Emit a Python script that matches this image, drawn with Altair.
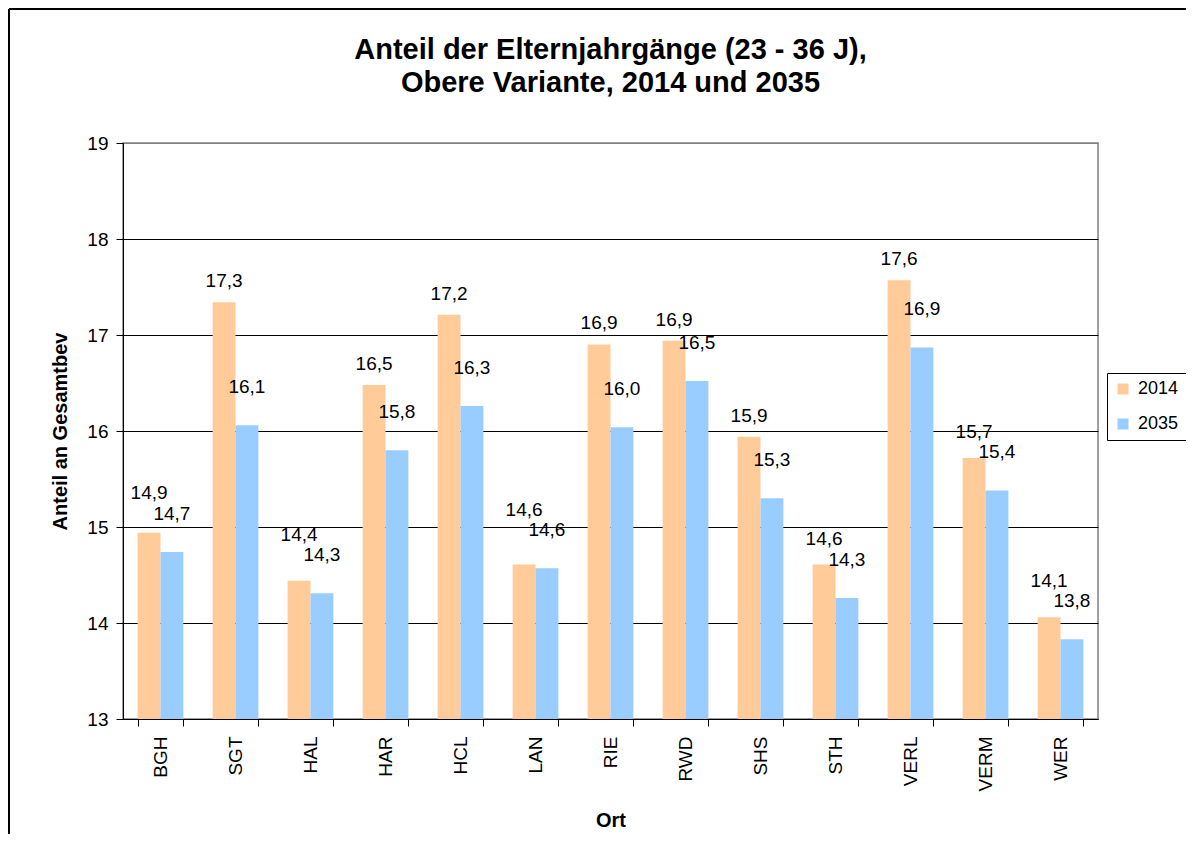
import altair as alt
import pandas as pd

orte = ["BGH", "SGT", "HAL", "HAR", "HCL", "LAN", "RIE", "RWD", "SHS", "STH", "VERL", "VERM", "WER"]
werte_2014 = [14.94, 17.34, 14.44, 16.48, 17.21, 14.61, 16.90, 16.94, 15.94, 14.61, 17.57, 15.72, 14.06]
werte_2035 = [14.74, 16.06, 14.31, 15.80, 16.26, 14.57, 16.04, 16.52, 15.30, 14.26, 16.87, 15.38, 13.83]
jahre = ["2014", "2035"]
farben = ["#FFCC99", "#99CCFF"]
y_ticks = [13, 14, 15, 16, 17, 18, 19]
titel_zeilen = ["Anteil der Elternjahrgänge (23 - 36 J),", "Obere Variante, 2014 und 2035"]

# label placement (in value units above the bar top), Excel-like staggering
GAP_2014 = 0.22
GAP_2035 = 0.40
GAP_STACK = 0.21

rows = []
for o, a, b in zip(orte, werte_2014, werte_2035):
    pos_b = b + GAP_2035
    pos_a = max(a + GAP_2014, pos_b + GAP_STACK)
    for j, v, p in zip(jahre, [a, b], [pos_a, pos_b]):
        rows.append({"Ort": o, "Jahr": j, "Wert": v, "LabelPos": p,
                     "Label": f"{v:.1f}".replace(".", ",")})
df = pd.DataFrame(rows)

FONT = "Liberation Sans"
W, H = 975, 576
PAD = {"left": 115, "top": 135, "right": 88, "bottom": 115}

x_enc = alt.X(
    "Ort:N",
    sort=orte,
    scale=alt.Scale(paddingInner=0.39, paddingOuter=0.195),
    axis=alt.Axis(
        title="Ort",
        labelAngle=-90,
        labelAlign="right",
        labelBaseline="middle",
        labelFontSize=19,
        labelPadding=10,
        labelColor="black",
        tickBand="extent",
        tickSize=7,
        tickColor="black",
        domainColor="black",
        titleFontSize=20,
        titleFontWeight="bold",
        titleColor="black",
        titleX=487.5,
        titleY=101,
        titleBaseline="middle",
        grid=False,
    ),
)
y_enc = alt.Y(
    "Wert:Q",
    scale=alt.Scale(domain=[13, 19], nice=False, zero=False),
    axis=alt.Axis(
        title="Anteil an Gesamtbev",
        values=y_ticks,
        format="d",
        labelFontSize=19,
        labelColor="black",
        labelPadding=8,
        tickSize=7,
        tickColor="black",
        domainColor="black",
        grid=True,
        gridColor={"condition": {"test": "datum.value == 19", "value": "#808080"}, "value": "black"},
        titleFontSize=20,
        titleFontWeight="bold",
        titleColor="black",
        titleX=-63,
        titleY=288,
        titleBaseline="middle",
        titleAlign="center",
        titleAngle=-90,
    ),
)

base = alt.Chart(df)

bars = base.mark_bar().encode(
    x=x_enc,
    xOffset=alt.XOffset("Jahr:N", sort=jahre),
    y=y_enc,
    y2=alt.datum(13),
    color=alt.Color(
        "Jahr:N",
        sort=jahre,
        scale=alt.Scale(domain=jahre, range=farben),
        legend=alt.Legend(
            title=None,
            orient="none",
            legendX=984,
            legendY=230,
            symbolType="square",
            symbolSize=121,
            symbolStrokeWidth=0,
            labelFontSize=18,
            labelColor="black",
            labelOffset=6,
            padding=7,
            rowPadding=17,
            strokeColor="black",
            fillColor="white",
        ),
    ),
)

labels = base.mark_text(baseline="middle", fontSize=19, color="black", font=FONT).encode(
    x=alt.X("Ort:N", sort=orte),
    xOffset=alt.XOffset("Jahr:N", sort=jahre),
    y=alt.Y("LabelPos:Q"),
    text="Label:N",
)

one = pd.DataFrame({"a": [0]})
svg_w = PAD["left"] + W + PAD["right"]
svg_h = PAD["top"] + H + PAD["bottom"]

# outer chart frame (left and top edges; right and bottom lie outside the window)
frame_left = alt.Chart(one).mark_rule(color="black", strokeWidth=2).encode(
    x=alt.value(-PAD["left"] + 1),
    y=alt.value(-PAD["top"] + 1),
    y2=alt.value(svg_h - PAD["top"]),
)
frame_top = alt.Chart(one).mark_rule(color="black", strokeWidth=2).encode(
    y=alt.value(-PAD["top"] + 1),
    x=alt.value(-PAD["left"] + 1),
    x2=alt.value(svg_w - PAD["left"]),
)

title1 = alt.Chart(one).mark_text(
    fontSize=29, fontWeight="bold", font=FONT, color="black", align="center", baseline="alphabetic"
).encode(x=alt.value(W / 2), y=alt.value(-84), text=alt.value(titel_zeilen[0]))
title2 = alt.Chart(one).mark_text(
    fontSize=29, fontWeight="bold", font=FONT, color="black", align="center", baseline="alphabetic"
).encode(x=alt.value(W / 2), y=alt.value(-51), text=alt.value(titel_zeilen[1]))

chart = alt.layer(frame_left, frame_top, title1, title2, bars, labels).properties(
    width=W,
    height=H,
    autosize=alt.AutoSizeParams(type="none"),
    padding=PAD,
).configure(font=FONT).configure_view(
    stroke="#808080", strokeWidth=1.5
)

chart.save("out.html", embed_options={"renderer": "svg", "actions": False})
